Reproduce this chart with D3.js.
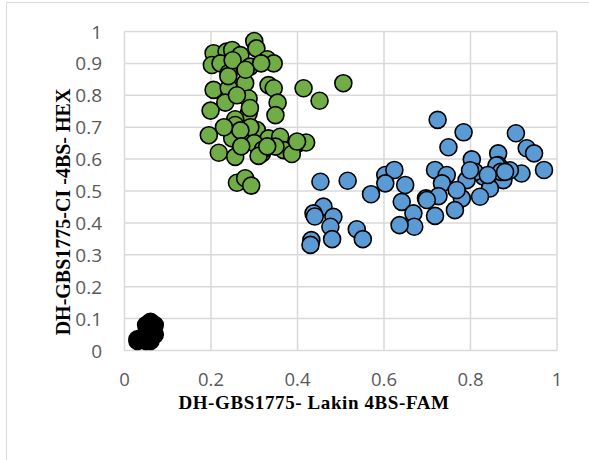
<!DOCTYPE html>
<meta charset="utf-8">
<script src="https://d3js.org/d3.v7.min.js"></script>
<style>
  body { margin: 0; background: #fff; }
</style>
<div id="my_dataviz"></div>
<script>

// points: [FAM, HEX]
var blackPts = [[0.03,0.03],[0.05,0.03],[0.06,0.04],[0.05,0.08],[0.06,0.09],[0.07,0.08],
                [0.07,0.05],[0.06,0.03],[0.04,0.04],[0.03,0.035]]

var greenPts = [[0.30,0.97],[0.305,0.947],[0.206,0.932],[0.236,0.937],[0.249,0.942],[0.268,0.926],
                [0.33,0.913],[0.345,0.90],[0.202,0.895],[0.222,0.90],[0.241,0.87],[0.29,0.89],
                [0.316,0.90],[0.279,0.838],[0.206,0.817],[0.241,0.823],[0.333,0.832],[0.345,0.822],
                [0.414,0.822],[0.506,0.838],[0.451,0.783],[0.287,0.79],[0.233,0.777],[0.354,0.777],
                [0.199,0.752],[0.287,0.743],[0.349,0.738],[0.256,0.725],[0.306,0.691],[0.195,0.675],
                [0.249,0.665],[0.283,0.662],[0.333,0.665],[0.36,0.67],[0.403,0.651],[0.42,0.652],
                [0.218,0.62],[0.318,0.618],[0.368,0.628],[0.387,0.616],[0.256,0.607],[0.26,0.526],
                [0.279,0.54],[0.293,0.517],[0.399,0.655],[0.349,0.639],[0.291,0.70],[0.256,0.707],
                [0.268,0.69],[0.30,0.65],[0.32,0.63],[0.24,0.86],[0.26,0.80],[0.29,0.76],
                [0.23,0.70],[0.27,0.64],[0.31,0.61],[0.25,0.91],[0.28,0.88],[0.33,0.64]]

var bluePts = [[0.453,0.529],[0.516,0.532],[0.603,0.55],[0.624,0.566],[0.649,0.519],[0.57,0.49],
               [0.603,0.524],[0.641,0.466],[0.668,0.43],[0.67,0.388],[0.636,0.393],[0.46,0.451],
               [0.437,0.43],[0.483,0.419],[0.476,0.388],[0.432,0.346],[0.48,0.349],[0.537,0.38],
               [0.551,0.349],[0.43,0.331],[0.697,0.477],[0.724,0.723],[0.784,0.684],[0.749,0.637],
               [0.905,0.681],[0.93,0.634],[0.947,0.618],[0.97,0.566],[0.864,0.618],[0.803,0.599],
               [0.718,0.566],[0.745,0.55],[0.864,0.581],[0.918,0.555],[0.876,0.534],[0.83,0.545],
               [0.81,0.56],[0.845,0.508],[0.822,0.482],[0.78,0.477],[0.734,0.524],[0.726,0.484],
               [0.699,0.472],[0.764,0.44],[0.718,0.422],[0.791,0.534],[0.768,0.503],[0.891,0.565],
               [0.799,0.565],[0.86,0.58],[0.87,0.56],[0.84,0.55],[0.88,0.56],[0.44,0.42]]

var xTicks = [0, 0.2, 0.4, 0.6, 0.8, 1]
var yTicks = [0, 0.1, 0.2, 0.3, 0.4, 0.5, 0.6, 0.7, 0.8, 0.9, 1]

var width = 589
var height = 460

var svg = d3.select("#my_dataviz")
  .append("svg")
    .attr("width", width)
    .attr("height", height)

// chart border
svg.append("rect")
    .attr("x", 6.5).attr("y", 2.5)
    .attr("width", 600).attr("height", 600)
    .attr("fill", "none")
    .attr("stroke", "#d9d9d9")
    .attr("stroke-width", 1)

var x = d3.scaleLinear().domain([0, 1]).range([124.5, 557])
var y = d3.scaleLinear().domain([0, 1]).range([350.5, 31.5])

// gridlines
svg.append("g")
  .selectAll("line")
  .data(yTicks)
  .enter()
  .append("line")
    .attr("x1", x(0)).attr("x2", x(1))
    .attr("y1", function(d){ return y(d) })
    .attr("y2", function(d){ return y(d) })
    .attr("stroke", "#d9d9d9")
    .attr("stroke-width", 1.5)

svg.append("g")
  .selectAll("line")
  .data(xTicks)
  .enter()
  .append("line")
    .attr("y1", y(0)).attr("y2", y(1))
    .attr("x1", function(d){ return x(d) })
    .attr("x2", function(d){ return x(d) })
    .attr("stroke", "#d9d9d9")
    .attr("stroke-width", 1.5)

// tick labels
svg.append("g")
  .selectAll("text")
  .data(yTicks)
  .enter()
  .append("text")
    .attr("x", 102)
    .attr("y", function(d){ return y(d) + 7 })
    .attr("text-anchor", "end")
    .style("font-family", "Open Sans")
    .style("font-size", "19px")
    .style("fill", "#595959")
    .text(function(d){ return d3.format("")(d) })

svg.append("g")
  .selectAll("text")
  .data(xTicks)
  .enter()
  .append("text")
    .attr("x", function(d){ return x(d) })
    .attr("y", 386)
    .attr("text-anchor", "middle")
    .style("font-family", "Open Sans")
    .style("font-size", "18.5px")
    .style("fill", "#595959")
    .text(function(d){ return d3.format("")(d) })

// axis titles
svg.append("text")
    .attr("x", 314)
    .attr("y", 409)
    .attr("text-anchor", "middle")
    .style("font-family", "Liberation Serif")
    .style("font-weight", "bold")
    .style("font-size", "19px")
    .style("letter-spacing", "0.6px")
    .style("fill", "#000")
    .text("DH-GBS1775- Lakin 4BS-FAM")

svg.append("text")
    .attr("transform", "translate(70,212) rotate(-90)")
    .attr("text-anchor", "middle")
    .style("font-family", "Liberation Serif")
    .style("font-weight", "bold")
    .style("font-size", "20px")
    .style("fill", "#000")
    .text("DH-GBS1775-CI -4BS- HEX")

// the three groups of points
function drawPoints(data, fill) {
  svg.append("g")
    .selectAll("circle")
    .data(data)
    .enter()
    .append("circle")
      .attr("cx", function(d){ return x(d[0]) })
      .attr("cy", function(d){ return y(d[1]) })
      .attr("r", 8.5)
      .style("fill", fill)
      .attr("stroke", "#000")
      .style("stroke-width", 1.6)
}

drawPoints(blackPts, "#000")
drawPoints(greenPts, "#70ad47")
drawPoints(bluePts, "#5b9bd5")
</script>
